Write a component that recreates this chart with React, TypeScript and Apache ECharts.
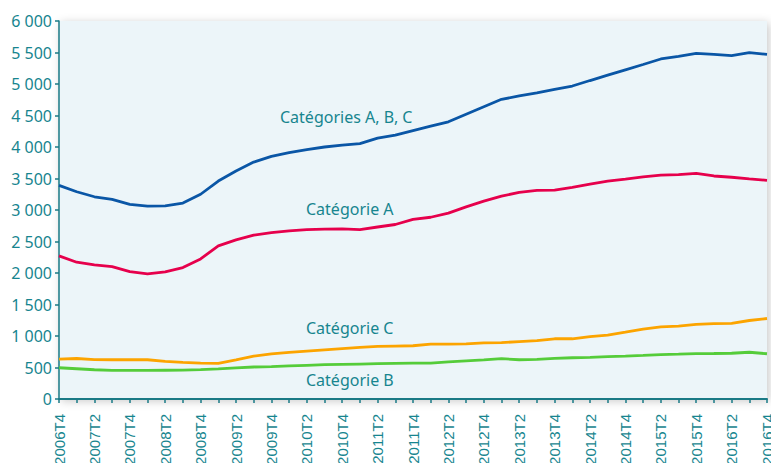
import React, { useEffect, useRef } from "react";
import * as echarts from "echarts";

const quarters = [
  "2006T4",
  "2007T1", "2007T2", "2007T3", "2007T4",
  "2008T1", "2008T2", "2008T3", "2008T4",
  "2009T1", "2009T2", "2009T3", "2009T4",
  "2010T1", "2010T2", "2010T3", "2010T4",
  "2011T1", "2011T2", "2011T3", "2011T4",
  "2012T1", "2012T2", "2012T3", "2012T4",
  "2013T1", "2013T2", "2013T3", "2013T4",
  "2014T1", "2014T2", "2014T3", "2014T4",
  "2015T1", "2015T2", "2015T3", "2015T4",
  "2016T1", "2016T2", "2016T3", "2016T4",
];

const catABC = [
  3390, 3290, 3210, 3170, 3090, 3060, 3065, 3110, 3250, 3460,
  3620, 3760, 3850, 3910, 3960, 4000, 4030, 4055, 4140, 4190,
  4260, 4330, 4400, 4520, 4640, 4757, 4810, 4860, 4915, 4968,
  5055, 5140, 5225, 5310, 5397, 5440, 5487, 5470, 5450, 5497,
  5471,
];

const catA = [
  2271, 2171, 2129, 2102, 2023, 1986, 2018, 2086, 2224, 2430,
  2525, 2600, 2640, 2670, 2690, 2695, 2700, 2690, 2730, 2770,
  2850, 2885, 2950, 3050, 3140, 3220, 3280, 3310, 3315, 3360,
  3410, 3460, 3490, 3525, 3555, 3560, 3582, 3540, 3520, 3495,
  3471,
];

const catC = [
  634, 643, 625, 623, 623, 623, 596, 580, 568, 565,
  620, 680, 715, 739, 760, 780, 800, 818, 835, 840,
  845, 870, 870, 875, 890, 895, 910, 925, 956, 956,
  990, 1014, 1060, 1110, 1146, 1157, 1183, 1198, 1200, 1246,
  1278,
];

const catB = [
  496, 480, 464, 455, 453, 453, 456, 458, 465, 478,
  495, 508, 515, 525, 535, 545, 550, 555, 560, 565,
  568, 571, 590, 605, 620, 640, 623, 630, 645, 655,
  662, 672, 680, 692, 705, 712, 720, 722, 726, 742,
  718,
];

const seriesNames = ["Catégories A, B, C", "Catégorie A", "Catégorie C", "Catégorie B"];
const seriesColors = ["#0a56a6", "#e6004c", "#fca400", "#55cc3a"];

const TEAL = "#17858f";

export default function App() {
  const ref = useRef<HTMLDivElement>(null);
  useEffect(() => {
    if (!ref.current) return;
    const chart = echarts.init(ref.current, undefined, { renderer: "svg" });
    const datasets = [catABC, catA, catC, catB];
    const labelPos = [
      { x: 280, y: 117 },
      { x: 306, y: 209 },
      { x: 306, y: 328 },
      { x: 306, y: 380 },
    ];
    chart.setOption({
      animation: false,
      grid: {
        left: 59,
        right: 4,
        top: 21,
        bottom: 64,
        containLabel: false,
        outerBoundsMode: "none",
        show: true,
        backgroundColor: "#ecf5f9",
        borderWidth: 0,
        shadowBlur: 10,
        shadowColor: "rgba(0,0,0,0.22)",
        shadowOffsetX: 2,
        shadowOffsetY: 2,
      },
      xAxis: {
        type: "category",
        data: quarters,
        boundaryGap: false,
        axisLine: { show: true, lineStyle: { color: "#1a7a86", width: 2 } },
        axisTick: { show: true, interval: 0, length: 4, lineStyle: { color: "#1a7a86", width: 1.5 } },
        axisLabel: {
          interval: 1,
          rotate: 90,
          margin: 15,
          color: TEAL,
          fontSize: 15,
          fontFamily: "Liberation Sans",
          hideOverlap: false,
        },
        splitLine: { show: false },
      },
      yAxis: {
        type: "value",
        min: 0,
        max: 6000,
        interval: 500,
        axisLine: { show: true, lineStyle: { color: "#1a7a86", width: 1.5 } },
        axisTick: { show: true, length: 4, lineStyle: { color: "#1a7a86", width: 1.5 } },
        axisLabel: {
          margin: 7,
          color: TEAL,
          fontSize: 16,
          fontFamily: "Noto Sans",
          formatter: (v: number) => String(v).replace(/\B(?=(\d{3})+(?!\d))/g, " "),
        },
        splitLine: { show: false },
      },
      series: datasets.map((d, i) => ({
        name: seriesNames[i],
        type: "line",
        data: d,
        showSymbol: false,
        smooth: false,
        lineStyle: { color: seriesColors[i], width: 2.8 },
        itemStyle: { color: seriesColors[i] },
      })),
      graphic: seriesNames.map((n, i) => ({
        type: "text",
        x: labelPos[i].x,
        y: labelPos[i].y,
        style: {
          text: n,
          fill: TEAL,
          font: "16px 'Noto Sans'",
          textVerticalAlign: "middle",
          verticalAlign: "middle",
        },
        z: 100,
      })),
    });
    return () => chart.dispose();
  }, []);
  return (
    <div
      ref={ref}
      style={{ position: "absolute", left: 0, top: 0, width: 771, height: 463, background: "#fff" }}
    />
  );
}
